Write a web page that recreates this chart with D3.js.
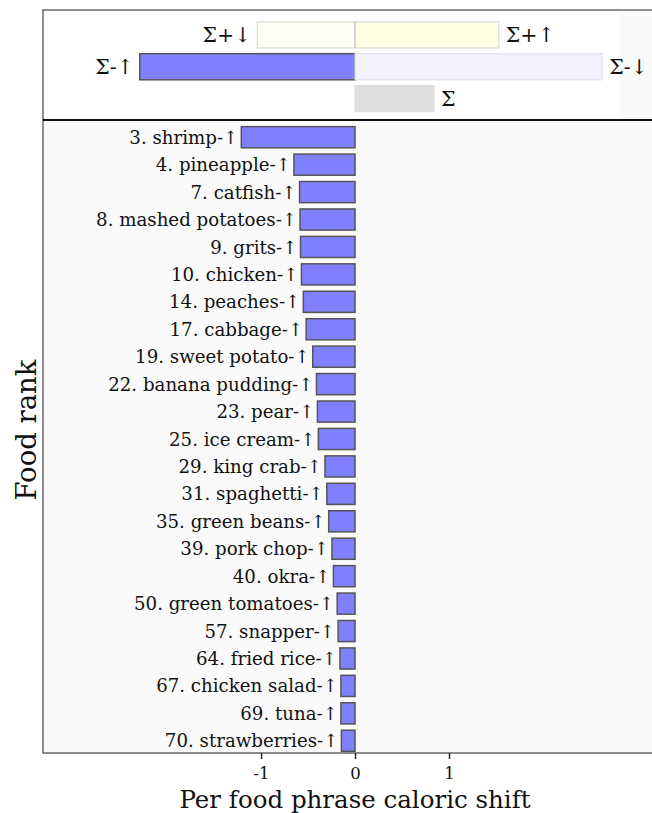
<!DOCTYPE html>
<html><head><meta charset="utf-8">
<script src="https://cdn.jsdelivr.net/npm/d3@7"></script>
<style>
html,body{margin:0;padding:0;background:#fff;}
svg text{font-family:"DejaVu Serif","Liberation Serif",serif;fill:#111;}
</style></head>
<body><svg id="c" width="652" height="813"></svg>
<script>
// ---- data ----
const foods = ["3. shrimp-↑","4. pineapple-↑","7. catfish-↑","8. mashed potatoes-↑","9. grits-↑","10. chicken-↑","14. peaches-↑","17. cabbage-↑","19. sweet potato-↑","22. banana pudding-↑","23. pear-↑","25. ice cream-↑","29. king crab-↑","31. spaghetti-↑","35. green beans-↑","39. pork chop-↑","40. okra-↑","50. green tomatoes-↑","57. snapper-↑","64. fried rice-↑","67. chicken salad-↑","69. tuna-↑","70. strawberries-↑"];
const shifts = [-1.21,-0.65,-0.59,-0.585,-0.58,-0.57,-0.55,-0.52,-0.45,-0.41,-0.40,-0.39,-0.32,-0.30,-0.28,-0.245,-0.23,-0.19,-0.18,-0.16,-0.15,-0.15,-0.145];
const sumRows = ["plus","minus","total"];
const sumLabels = ["Σ+↓","Σ+↑","Σ-↑","Σ-↓","Σ"];
const sumRowOf = ["plus","plus","minus","minus","total"];
const sumValues = [-1.04,1.53,-2.29,2.63,0.84];
const xTicks = [-1,0,1];

// ---- layout ----
const svg = d3.select("#c");
const L = 43, R = 668, T = 10, B = 753, insetR = 620, insetB = 120;
const x = d3.scaleLinear().domain([-3.32,3.33]).range([L, R]);
const y = d3.scaleBand().domain(foods).range([123.5,754.5]).paddingInner(0.23).paddingOuter(0.115);
const ys = d3.scaleBand().domain(sumRows).range([19,114.5]).paddingInner(0.18).paddingOuter(0.09);

// main panel bg
svg.append("rect").attr("x",L).attr("y",T).attr("width",R-L).attr("height",B-T).attr("fill","#fafafa");
// inset bg
svg.append("rect").attr("x",L).attr("y",T).attr("width",insetR-L).attr("height",insetB-T).attr("fill","#fff");

// main bars
svg.append("g").selectAll("rect").data(foods).join("rect")
  .attr("x",(d,i)=>x(Math.min(0,shifts[i])))
  .attr("y",d=>y(d))
  .attr("width",(d,i)=>Math.abs(x(shifts[i])-x(0)))
  .attr("height",y.bandwidth())
  .attr("fill","#8080ff").attr("stroke","#555").attr("stroke-width",1.5);

const fs = 18.2;
svg.append("g").selectAll("text").data(foods).join("text")
  .attr("x",(d,i)=>x(Math.min(0,shifts[i]))-3)
  .attr("y",d=>y(d)+y.bandwidth()/2)
  .attr("dy","0.36em").attr("text-anchor","end")
  .attr("font-size",fs).text(d=>d);

// inset bars
const fills = ["#fefef2","#fefee2","#8080ff","#f3f3fd","#dedede"];
const strokes = ["#dcdcdc","#dcdcdc","#555","#e2e2ea","#dedede"];
const gi = svg.append("g");
gi.selectAll("rect").data(sumLabels).join("rect")
  .attr("x",(d,i)=>x(Math.min(0,sumValues[i])))
  .attr("y",(d,i)=>ys(sumRowOf[i]))
  .attr("width",(d,i)=>Math.abs(x(sumValues[i])-x(0)))
  .attr("height",ys.bandwidth())
  .attr("fill",(d,i)=>fills[i]).attr("stroke",(d,i)=>strokes[i]).attr("stroke-width",(d,i)=>i===2?1.5:1.2);
// zero line in the positive row
svg.append("line").attr("x1",x(0)).attr("x2",x(0))
  .attr("y1",ys("plus")).attr("y2",ys("plus")+ys.bandwidth())
  .attr("stroke","#c8c8c8").attr("stroke-width",1.2);
gi.selectAll("text").data(sumLabels).join("text")
  .attr("x",(d,i)=>sumValues[i]<0 ? x(sumValues[i])-6 : x(sumValues[i])+7)
  .attr("y",(d,i)=>ys(sumRowOf[i])+ys.bandwidth()/2)
  .attr("dy","0.36em")
  .attr("text-anchor",(d,i)=>sumValues[i]<0?"end":"start")
  .attr("font-size",20.5).text(d=>d);

// frame
svg.append("rect").attr("x",L).attr("y",T).attr("width",R-L).attr("height",B-T)
  .attr("fill","none").attr("stroke","#444").attr("stroke-width",1.2);
svg.append("line").attr("x1",L).attr("x2",R).attr("y1",insetB).attr("y2",insetB)
  .attr("stroke","#111").attr("stroke-width",2);

// x axis
const ax = svg.append("g").attr("transform",`translate(0,${B})`)
  .call(d3.axisBottom(x).tickValues(xTicks).tickSize(6).tickFormat(d=>String(d)));
ax.select(".domain").remove();
ax.selectAll("line").attr("stroke","#222").attr("stroke-width",1.5);
ax.selectAll("text").attr("font-size",16.5).attr("font-family","DejaVu Serif").attr("dy",17).attr("fill","#111");

svg.append("text").attr("x",x(0)).attr("y",808).attr("text-anchor","middle")
  .attr("font-size",24.5).text("Per food phrase caloric shift");
svg.append("text").attr("transform","translate(36,430) rotate(-90)").attr("text-anchor","middle")
  .attr("font-size",27.5).text("Food rank");
</script></body></html>
